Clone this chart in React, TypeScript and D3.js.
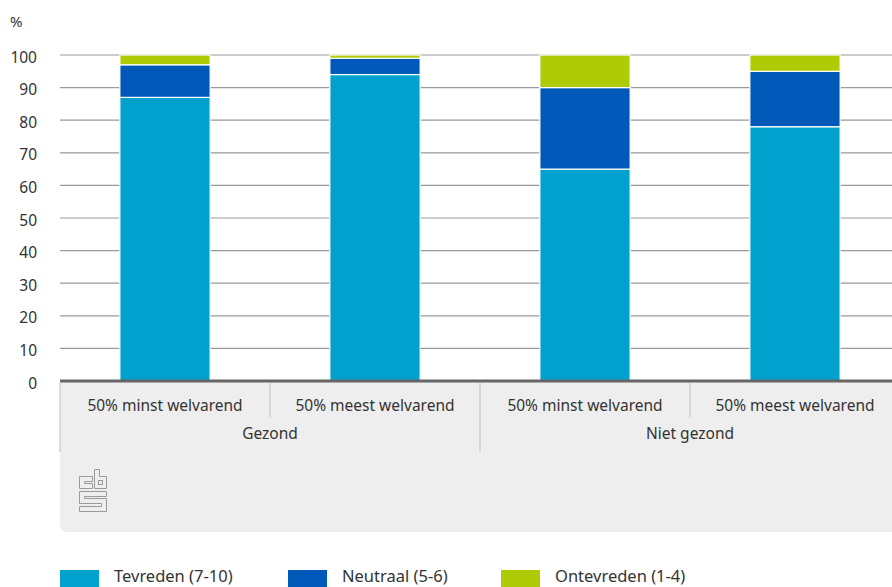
import React from "react";
import * as d3 from "d3";

const categories = [
  "50% minst welvarend",
  "50% meest welvarend",
  "50% minst welvarend",
  "50% meest welvarend",
];
const groups = ["Gezond", "Niet gezond"];
const groupOf = [0, 0, 1, 1];

const seriesNames = ["Tevreden (7-10)", "Neutraal (5-6)", "Ontevreden (1-4)"];
const tevreden = [87, 94, 65, 78];
const neutraal = [10, 5, 25, 17];
const ontevreden = [3, 1, 10, 5];
const colors = ["#00a1cd", "#0058b8", "#afcb05"];
const yTicks = [0, 10, 20, 30, 40, 50, 60, 70, 80, 90, 100];

const W = 892;
const H = 587;
const FONT = "'Noto Sans', 'Open Sans', sans-serif";

export default function App() {
  const left = 60;
  const right = 900;
  const top = 55;
  const bottom = 381;

  const x = d3.scaleBand<number>().domain(d3.range(categories.length)).range([left, right]).paddingInner(0).paddingOuter(0);
  const y = d3.scaleLinear().domain([0, 100]).range([bottom, top]);
  const bw = x.bandwidth() * 0.43;

  const rows = categories.map((c, i) => ({
    i,
    t: tevreden[i],
    n: neutraal[i],
    o: ontevreden[i],
  }));
  const stack = d3.stack<any>().keys(["t", "n", "o"])(rows);

  const panelBottom = 532;

  return (
    <svg width={W} height={H} style={{ position: "absolute", left: 0, top: 0, fontFamily: FONT }}>
      <rect width={W} height={H} fill="#fff" />
      <text x={10} y={27} fontSize={15} fill="#333">%</text>

      {yTicks.map((t) => (
        <g key={t}>
          {t > 0 && (
            <line x1={left} x2={W} y1={y(t)} y2={y(t)} stroke="#9a9a9a" strokeWidth={1.2} />
          )}
          <text x={37} y={y(t) + 7.5} fontSize={15.5} fill="#333" textAnchor="end">{t}</text>
        </g>
      ))}

      {stack.map((layer, k) => (
        <g key={k}>
          {layer.map((d, i) => (
            <rect
              key={i}
              x={(x(i) as number) + (x.bandwidth() - bw) / 2}
              y={y(d[1])}
              width={bw}
              height={y(d[0]) - y(d[1])}
              fill={colors[k]}
              stroke="#fff"
              strokeWidth={1.2}
            />
          ))}
        </g>
      ))}

      {/* x-axis panel */}
      <path
        d={`M${left},${bottom} H${W} V${panelBottom} H${left + 8} Q${left},${panelBottom} ${left},${panelBottom - 8} Z`}
        fill="#eeeeee"
      />
      <line x1={left} x2={W} y1={bottom} y2={bottom} stroke="#666" strokeWidth={3} />

      {categories.map((c, i) => (
        <g key={i}>
          {i % 2 === 1 && (
            <line x1={x(i) as number} x2={x(i) as number} y1={bottom + 2} y2={417} stroke="#c8c8c8" strokeWidth={1.2} />
          )}
          <text x={(x(i) as number) + x.bandwidth() / 2} y={411} fontSize={15.5} fill="#333" textAnchor="middle">{c}</text>
        </g>
      ))}
      {groups.map((g, gi) => {
        const idx = groupOf.map((v, i) => (v === gi ? i : -1)).filter((v) => v >= 0);
        const x0 = x(idx[0]) as number;
        const x1 = (x(idx[idx.length - 1]) as number) + x.bandwidth();
        return (
          <g key={g}>
            <line x1={x0} x2={x0} y1={bottom + 2} y2={452} stroke="#c8c8c8" strokeWidth={1.2} />
            <text x={(x0 + x1) / 2} y={439} fontSize={15.5} fill="#333" textAnchor="middle">{g}</text>
          </g>
        );
      })}

      {/* logo */}
      <g transform="translate(79,469)" fill="none" stroke="#9a9a9a" strokeWidth={1}>
        <path d="M0.5,7.5 H13.5 V12.5 H5.5 V14.5 H13.5 V19.5 H0.5 Z" />
        <path d="M15.5,0.5 H20.5 V7.5 H27.5 V19.5 H15.5 Z" />
        <rect x={19.5} y={11.5} width={4} height={4} />
        <path d="M0.5,22.5 H27.5 V27.5 H5.5 V29.5 H27.5 V42.5 H0.5 V37.5 H22.5 V34.5 H0.5 Z" />
      </g>

      {/* legend */}
      {seriesNames.map((s, k) => {
        const lx = [60, 288, 501][k];
        return (
          <g key={s}>
            <rect x={lx} y={570} width={39} height={17} fill={colors[k]} />
            <text x={lx + 54} y={582} fontSize={16.5} fill="#333">{s}</text>
          </g>
        );
      })}
    </svg>
  );
}
